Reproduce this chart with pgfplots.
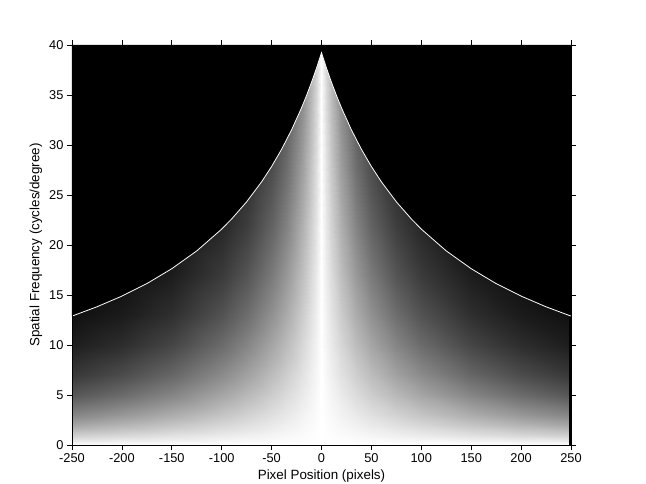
\documentclass[border=0pt]{standalone}
\usepackage{fontspec}
\setmainfont{Liberation Sans}
\usepackage{pgfplots}
\pgfplotsset{compat=1.18}
\begin{document}
\begin{tikzpicture}
\path[use as bounding box] (-72pt,-38pt) rectangle (574pt,445pt);
\begin{axis}[
  at={(0pt,0pt)}, anchor=south west,
  scale only axis, width=499pt, height=400pt,
  view={0}{90},
  xmin=-250, xmax=250, ymin=0, ymax=40, zmin=0, zmax=1,
  xtick={-250,-200,...,250}, ytick={0,5,...,40}, ztick=\empty,
  xtick pos=both, ytick pos=both,
  tick align=outside, major tick length=5pt,
  tick style={black, line width=0.8pt},
  axis line style={black, line width=0.8pt},
  axis on top,
  colormap/blackwhite,
  point meta min=0, point meta max=1,
  /pgf/number format/assume math mode=true,
  tick label style={font=\fontsize{12.8}{14}\selectfont},
  label style={font=\fontsize{13.4}{15}\selectfont},
  xlabel={Pixel Position (pixels)},
  ylabel={Spatial Frequency (cycles/degree)},
  xlabel style={at={(axis description cs:0.5,-0.0785)}, anchor=center},
  ylabel style={at={(axis description cs:-0.0721,0.5)}, anchor=center},
]
\addplot3[surf, shader=interp, mesh/cols=21, point meta=\thisrow{z}] table {
x y z
-250 0 1
-200 0 1
-150 0 1
-100 0 1
-75 0 1
-50 0 1
-35 0 1
-20 0 1
-10 0 1
-5 0 1
0 0 1
5 0 1
10 0 1
20 0 1
35 0 1
50 0 1
75 0 1
100 0 1
150 0 1
200 0 1
250 0 1
-250 1 .8052
-200 1 .8409
-150 1 .8781
-100 1 .9170
-75 1 .9371
-50 1 .9576
-35 1 .9701
-20 1 .9828
-10 1 .9914
-5 1 .9957
0 1 1
5 1 .9957
10 1 .9914
20 1 .9828
35 1 .9701
50 1 .9576
75 1 .9371
100 1 .9170
150 1 .8781
200 1 .8409
250 1 .8052
-250 2 .6484
-200 2 .7071
-150 2 .7711
-100 2 .8409
-75 2 .8781
-50 2 .9170
-35 2 .9411
-20 2 .9659
-10 2 .9828
-5 2 .9914
0 2 1
5 2 .9914
10 2 .9828
20 2 .9659
35 2 .9411
50 2 .9170
75 2 .8781
100 2 .8409
150 2 .7711
200 2 .7071
250 2 .6484
-250 3 .5220
-200 3 .5945
-150 3 .6771
-100 3 .7711
-75 3 .8228
-50 3 .8781
-35 3 .9130
-20 3 .9493
-10 3 .9743
-5 3 .9871
0 3 1
5 3 .9871
10 3 .9743
20 3 .9493
35 3 .9130
50 3 .8781
75 3 .8228
100 3 .7711
150 3 .6771
200 3 .5945
250 3 .5220
-250 5 .3385
-200 5 .4203
-150 5 .5220
-100 5 .6484
-75 5 .7225
-50 5 .8052
-35 5 .8593
-20 5 .9170
-10 5 .9576
-5 5 .9786
0 5 1
5 5 .9786
10 5 .9576
20 5 .9170
35 5 .8593
50 5 .8052
75 5 .7225
100 5 .6484
150 5 .5220
200 5 .4203
250 5 .3385
-250 7 .2194
-200 7 .2972
-150 7 .4025
-100 7 .5452
-75 7 .6344
-50 7 .7383
-35 7 .8087
-20 7 .8857
-10 7 .9411
-5 7 .9701
0 7 1
5 7 .9701
10 7 .9411
20 7 .8857
35 7 .8087
50 7 .7383
75 7 .6344
100 7 .5452
150 7 .4025
200 7 .2972
250 7 .2194
-250 10 .1146
-200 10 .1767
-150 10 .2725
-100 10 .4203
-75 10 .5220
-50 10 .6484
-35 10 .7383
-20 10 .8409
-10 10 .9170
-5 10 .9576
0 10 1
5 10 .9576
10 10 .9170
20 10 .8409
35 10 .7383
50 10 .6484
75 10 .5220
100 10 .4203
150 10 .2725
200 10 .1767
250 10 .1146
-250 13 .0598
-200 13 .1050
-150 13 .1845
-100 13 .3241
-75 13 .4296
-50 13 .5693
-35 13 .6741
-20 13 .7983
-10 13 .8934
-5 13 .9452
0 13 1
5 13 .9452
10 13 .8934
20 13 .7983
35 13 .6741
50 13 .5693
75 13 .4296
100 13 .3241
150 13 .1845
200 13 .1050
250 13 .0598
-250 17 .0251
-200 17 .0525
-150 17 .1097
-100 17 .2291
-75 17 .3312
-50 17 .4787
-35 17 .5971
-20 17 .7448
-10 17 .8630
-5 17 .9290
0 17 1
5 17 .9290
10 17 .8630
20 17 .7448
35 17 .5971
50 17 .4787
75 17 .3312
100 17 .2291
150 17 .1097
200 17 .0525
250 17 .0251
-250 22 .0085
-200 22 .0221
-150 22 .0573
-100 22 .1486
-75 22 .2393
-50 22 .3854
-35 22 .5131
-20 22 .6829
-10 22 .8264
-5 22 .9091
0 22 1
5 22 .9091
10 22 .8264
20 22 .6829
35 22 .5131
50 22 .3854
75 22 .2393
100 22 .1486
150 22 .0573
200 22 .0221
250 22 .0085
-250 28 .0023
-200 28 .0078
-150 28 .0263
-100 28 .0883
-75 28 .1620
-50 28 .2972
-35 28 .4277
-20 28 .6155
-10 28 .7845
-5 28 .8857
0 28 1
5 28 .8857
10 28 .7845
20 28 .6155
35 28 .4277
50 28 .2972
75 28 .1620
100 28 .0883
150 28 .0263
200 28 .0078
250 28 .0023
-250 34 .0006
-200 34 .0028
-150 34 .0120
-100 34 .0525
-75 34 .1097
-50 34 .2292
-35 34 .3565
-20 34 .5547
-10 34 .7448
-5 34 .8630
0 34 1
5 34 .8630
10 34 .7448
20 34 .5547
35 34 .3565
50 34 .2292
75 34 .1097
100 34 .0525
150 34 .0120
200 34 .0028
250 34 .0006
-250 40 .0002
-200 40 .0010
-150 40 .0055
-100 40 .0312
-75 40 .0743
-50 40 .1767
-35 40 .2972
-20 40 .4999
-10 40 .7071
-5 40 .8409
0 40 1
5 40 .8409
10 40 .7071
20 40 .4999
35 40 .2972
50 40 .1767
75 40 .0743
100 40 .0312
150 40 .0120
200 40 .0010
250 40 .0002
};
\addplot[fill=black, draw=none] coordinates {
(-250,40.5) (-250,12.89) (-225,13.82) (-200,14.89) (-175,16.14) (-150,17.63)
(-125,19.41) (-100,21.59) (-90,22.61) (-75,24.32) (-60,26.32) (-50,27.85)
(-40,29.57) (-30,31.51) (-20,33.72) (-15,34.95) (-10,36.27) (-5,37.69) (0,39.23)
(5,37.69) (10,36.27) (15,34.95) (20,33.72) (30,31.51) (40,29.57) (50,27.85)
(60,26.32) (75,24.32) (90,22.61) (100,21.59) (125,19.41) (150,17.63)
(175,16.14) (200,14.89) (225,13.82) (250,12.89) (250,40.5)
} -- cycle;
\addplot[fill=black, draw=none] coordinates {
(247.5,0) (250.5,0) (250.5,12.89) (247.5,12.89)
} -- cycle;
\addplot[white, line width=0.8pt] coordinates {
(-250,12.89) (-225,13.82) (-200,14.89) (-175,16.14) (-150,17.63)
(-125,19.41) (-100,21.59) (-90,22.61) (-75,24.32) (-60,26.32) (-50,27.85)
(-40,29.57) (-30,31.51) (-20,33.72) (-15,34.95) (-10,36.27) (-5,37.69) (0,39.23)
(5,37.69) (10,36.27) (15,34.95) (20,33.72) (30,31.51) (40,29.57) (50,27.85)
(60,26.32) (75,24.32) (90,22.61) (100,21.59) (125,19.41) (150,17.63)
(175,16.14) (200,14.89) (225,13.82) (250,12.89)
};
\end{axis}
\end{tikzpicture}
\end{document}
